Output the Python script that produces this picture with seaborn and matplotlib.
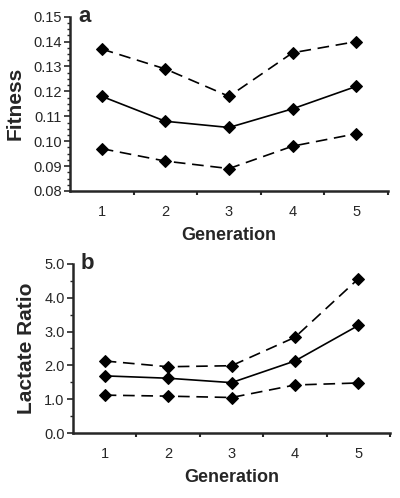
import matplotlib
matplotlib.use("Agg")
import matplotlib.pyplot as plt
from matplotlib.ticker import MultipleLocator, FormatStrFormatter
import seaborn as sns
import pandas as pd

sns.set_style("ticks")
plt.rcParams['font.family'] = ['Liberation Sans', 'DejaVu Sans']

generation = [1, 2, 3, 4, 5]

# panel a - fitness
fit_upper = [0.137, 0.129, 0.118, 0.1355, 0.140]
fit_mean = [0.118, 0.108, 0.1055, 0.113, 0.122]
fit_lower = [0.097, 0.092, 0.089, 0.098, 0.103]

# panel b - lactate ratio
lac_upper = [2.13, 1.96, 1.99, 2.83, 4.56]
lac_mean = [1.69, 1.62, 1.49, 2.13, 3.18]
lac_lower = [1.12, 1.09, 1.05, 1.42, 1.48]


def draw_panel(ax, upper, mean, lower, ylabel, letter, ylim, major, minor, fmt):
    for vals, ls in [(upper, (0, (7, 4))), (mean, '-'), (lower, (0, (7, 4)))]:
        df = pd.DataFrame({'gen': generation, 'val': vals})
        sns.lineplot(data=df, x='gen', y='val', ax=ax, color='black', lw=1.2,
                     marker='D', markersize=6, markeredgecolor='black',
                     linestyle=ls)
    ax.set_xlim(0.5, 5.5)
    ax.set_ylim(*ylim)
    # Excel-style category axis: ticks between categories, labels centred
    ax.set_xticks([1.5, 2.5, 3.5, 4.5, 5.5])
    ax.set_xticklabels([])
    ax.set_xticks(generation, minor=True)
    ax.set_xticklabels([str(g) for g in generation], minor=True)
    ax.tick_params(axis='x', which='minor', length=0, pad=10, labelsize=10.5)
    ax.tick_params(axis='x', which='major', length=3, width=1.5, direction='out')
    ax.yaxis.set_major_locator(MultipleLocator(major))
    ax.yaxis.set_minor_locator(MultipleLocator(minor))
    ax.yaxis.set_major_formatter(FormatStrFormatter(fmt))
    ax.tick_params(axis='y', which='major', length=4, width=1.2, labelsize=10.5, pad=2)
    ax.tick_params(axis='y', which='minor', length=2, width=1.0)
    for s in ['left', 'bottom']:
        ax.spines[s].set_linewidth(1.8)
    sns.despine(ax=ax)
    ax.set_ylabel(ylabel, fontsize=15, fontweight='bold', labelpad=6)
    ax.set_xlabel('Generation', fontsize=13, fontweight='bold', labelpad=6)
    ax.text(0.025, 1.0, letter, transform=ax.transAxes, fontsize=16,
            fontweight='bold', va='center', ha='left')


fig = plt.figure(figsize=(4.0, 4.98), dpi=100)
ax1 = fig.add_axes([0.175, 0.6165, 0.795, 0.35])
ax2 = fig.add_axes([0.1825, 0.1305, 0.7925, 0.3395])

draw_panel(ax1, fit_upper, fit_mean, fit_lower, 'Fitness', 'a',
           (0.08, 0.15), 0.01, 0.0025, '%.2f')
draw_panel(ax2, lac_upper, lac_mean, lac_lower, 'Lactate Ratio', 'b',
           (0.0, 5.0), 1.0, 0.5, '%.1f')

fig.savefig('out.png', dpi=100)
